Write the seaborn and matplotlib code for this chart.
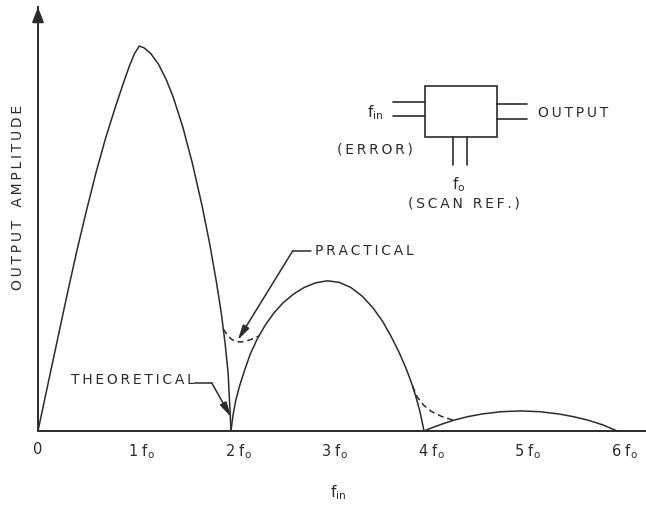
"""
Output amplitude vs input frequency (theoretical / practical response)
"""

import numpy as np
import pandas as pd
import matplotlib
matplotlib.use("Agg")
import matplotlib.pyplot as plt
import matplotlib.transforms as mtransforms
from matplotlib.patches import Rectangle
import seaborn as sns

sns.set_style("white")
plt.rcParams['font.family'] = ['DejaVu Sans']
plt.rcParams['mathtext.default'] = 'regular'

INK = '#2b2b2b'

# ---------------------------------------------------------------------------
# Data (x in units of f0, amplitude relative to 1st peak)
# ---------------------------------------------------------------------------
lobe1_x = [0, 0.1, 0.2, 0.3, 0.4, 0.5, 0.6, 0.7, 0.8, 0.88, 0.95, 1.0, 1.05,
           1.1, 1.17, 1.25, 1.33, 1.4, 1.5, 1.6, 1.7, 1.78, 1.85, 1.9, 1.94,
           1.97, 2.0]
lobe1_y = [0, 0.118, 0.235, 0.352, 0.465, 0.57, 0.67, 0.76, 0.84, 0.9, 0.95,
           0.98, 1.0, 0.995, 0.98, 0.952, 0.912, 0.868, 0.79, 0.695, 0.585,
           0.485, 0.385, 0.305, 0.225, 0.15, 0.0]

lobe2_x = [2.0, 2.02, 2.05, 2.09, 2.14, 2.2, 2.27, 2.35, 2.44, 2.54, 2.65,
           2.76, 2.88, 3.0, 3.12, 3.24, 3.36, 3.47, 3.57, 3.66, 3.74, 3.81,
           3.87, 3.92, 3.96, 4.0]
lobe2_y = [0.0, 0.04, 0.08, 0.118, 0.157, 0.2, 0.238, 0.273, 0.305, 0.333,
           0.356, 0.373, 0.385, 0.39, 0.386, 0.373, 0.35, 0.32, 0.285, 0.245,
           0.205, 0.165, 0.125, 0.085, 0.048, 0.0]

lobe3_x = [4.0, 4.1, 4.2, 4.31, 4.45, 4.6, 4.8, 5.0, 5.2, 5.4, 5.55, 5.7,
           5.85, 6.0]
lobe3_y = [0.0, 0.01, 0.019, 0.028, 0.037, 0.044, 0.05, 0.052, 0.05, 0.044,
           0.037, 0.028, 0.016, 0.0]

# practical response (dashed) around the nulls at 2 f0 and 4 f0
prac2_x = [1.92, 1.96, 2.0, 2.05, 2.1, 2.15, 2.2, 2.25, 2.29]
prac2_y = [0.265, 0.25, 0.239, 0.232, 0.231, 0.233, 0.237, 0.242, 0.247]
prac4_x = [3.88, 3.93, 4.0, 4.08, 4.18, 4.3]
prac4_y = [0.117, 0.088, 0.066, 0.05, 0.038, 0.028]

tick_pos = [0, 1, 2, 3, 4, 5, 6]
tick_lbl = ['0', r'1 f$_o$', r'2 f$_o$', r'3 f$_o$', r'4 f$_o$', r'5 f$_o$',
            r'6 f$_o$']


def spaced(s):
    # open up the letter spacing like the stencil lettering on the drawing
    return '\u2009'.join(s)


# ---------------------------------------------------------------------------
fig = plt.figure(figsize=(6.46, 5.07), dpi=100)
ax = fig.add_axes([0.0588, 0.150, 0.9412, 0.836])
XMAX, YMAX = 6.30, 1.101

theo = pd.concat([
    pd.DataFrame({'x': lobe1_x, 'y': lobe1_y, 'seg': 'l1'}),
    pd.DataFrame({'x': lobe2_x, 'y': lobe2_y, 'seg': 'l2'}),
    pd.DataFrame({'x': lobe3_x, 'y': lobe3_y, 'seg': 'l3'}),
])
for seg, d in theo.groupby('seg'):
    sns.lineplot(data=d, x='x', y='y', ax=ax, color=INK, lw=1.1,
                 estimator=None, sort=False)

for px, py in [(prac2_x, prac2_y), (prac4_x, prac4_y)]:
    sns.lineplot(x=px, y=py, ax=ax, color=INK, lw=1.1, estimator=None,
                 sort=False, dashes=False, linestyle=(0, (4, 2.5)))

ax.set_xlim(0, XMAX)
ax.set_ylim(0, YMAX)
ax.set_xlabel('')
ax.set_ylabel('')
ax.set_yticks([])
ax.set_xticks(tick_pos)
ax.set_xticklabels(tick_lbl, fontsize=10.5, color=INK)
ax.tick_params(axis='x', direction='in', length=8, width=1.0, color=INK,
               pad=8)
for lbl in ax.get_xticklabels()[1:]:
    lbl.set_transform(lbl.get_transform() +
                      mtransforms.ScaledTranslation(0.07, 0,
                                                    fig.dpi_scale_trans))

sns.despine(ax=ax)
for side in ['left', 'bottom']:
    ax.spines[side].set_color(INK)
    ax.spines[side].set_linewidth(1.4)

# arrow head on the amplitude axis
ax.annotate('', xy=(0, YMAX), xytext=(0, YMAX - 0.04),
            arrowprops=dict(arrowstyle='-|>,head_length=0.9,head_width=0.35',
                            color=INK, lw=1.4, shrinkA=0, shrinkB=0),
            annotation_clip=False)

# labels on the curves
ax.text(1.63, 0.132, spaced('THEORETICAL'), ha='right', va='center',
        fontsize=10, color=INK)
ax.plot([1.63, 1.80], [0.125, 0.125], color=INK, lw=1.1)
ax.annotate('', xy=(2.0, 0.036), xytext=(1.80, 0.125),
            arrowprops=dict(arrowstyle='-|>,head_length=0.9,head_width=0.22',
                            color=INK, lw=1.1, shrinkA=0, shrinkB=0))

ax.text(2.87, 0.468, spaced('PRACTICAL'), ha='left', va='center',
        fontsize=10, color=INK)
ax.plot([2.64, 2.83], [0.468, 0.468], color=INK, lw=1.1)
ax.annotate('', xy=(2.07, 0.236), xytext=(2.64, 0.468),
            arrowprops=dict(arrowstyle='-|>,head_length=0.9,head_width=0.22',
                            color=INK, lw=1.1, shrinkA=0, shrinkB=0))

# block diagram inset
ax.add_patch(Rectangle((4.01, 0.764), 0.75, 0.132, fill=False,
                       edgecolor=INK, lw=1.2))
for yy in [0.855, 0.818]:
    ax.plot([3.68, 4.01], [yy, yy], color=INK, lw=1.2)
for yy in [0.849, 0.810]:
    ax.plot([4.76, 5.07], [yy, yy], color=INK, lw=1.2)
for xx in [4.30, 4.45]:
    ax.plot([xx, xx], [0.764, 0.691], color=INK, lw=1.2)

ax.text(3.58, 0.826, r'f$_{in}$', ha='right', va='center', fontsize=11,
        color=INK)
ax.text(3.49, 0.730, spaced('(ERROR)'), ha='center', va='center',
        fontsize=10, color=INK)
ax.text(5.18, 0.826, spaced('OUTPUT'), ha='left', va='center', fontsize=10,
        color=INK)
ax.text(4.36, 0.641, r'f$_o$', ha='center', va='center', fontsize=11,
        color=INK)
ax.text(4.41, 0.590, spaced('(SCAN REF.)'), ha='center', va='center',
        fontsize=10, color=INK)

# axis titles
fig.text(0.028, 0.61, spaced('OUTPUT') + '   ' + spaced('AMPLITUDE'),
         rotation=90, ha='center', va='center', fontsize=10, color=INK)
fig.text(0.523, 0.028, r'f$_{in}$', ha='center', va='center', fontsize=11,
         color=INK)

plt.savefig('out.png', dpi=100)
plt.close()
